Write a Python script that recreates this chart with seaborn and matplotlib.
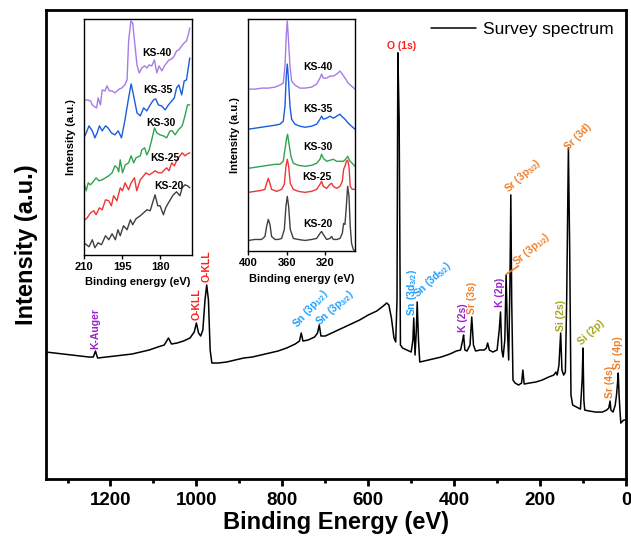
import numpy as np
import pandas as pd
import seaborn as sns
from matplotlib import pyplot as plt

# Survey spectrum (binding energy in eV, intensity in a.u.)
survey_be = [1350, 1330, 1310, 1290, 1270, 1250, 1240, 1235, 1230, 1210, 1190, 1170, 1150, 1130, 1110,
             1090, 1075, 1065, 1058, 1045, 1030, 1015, 1005, 1000, 995, 990, 985, 980, 976, 972, 968,
             964, 950, 930, 910, 890, 870, 850, 830, 810, 790, 770, 760, 756, 752, 740, 725, 718, 714,
             710, 700, 680, 660, 640, 620, 600, 580, 565, 557, 552, 546, 540, 536, 533, 531, 528, 525,
             520, 510, 500, 496, 494, 491, 488, 486, 483, 480, 470, 450, 430, 410, 395, 385, 380, 378,
             375, 370, 363, 359, 355, 350, 340, 330, 325, 322, 318, 310, 300, 295, 292, 289, 286, 282,
             279, 276, 273, 270, 268, 266, 263, 258, 250, 243, 240, 237, 225, 210, 195, 180, 168, 163,
             160, 156, 152, 149, 145, 141, 138, 134, 131, 128, 124, 115, 106, 102, 100, 98, 96, 85, 70,
             55, 45, 40, 37, 35, 30, 25, 22, 20, 18, 16, 14, 12, 8, 5, 2]
survey_int = [127, 126, 125, 124, 123, 122, 122, 128, 121, 122, 123, 124, 125, 127, 129,
              132, 134, 141, 135, 136, 138, 141, 147, 156, 146, 143, 149, 179, 194, 179, 129,
              116, 116, 117, 119, 121, 122, 124, 126, 128, 131, 135, 138, 146, 138, 139, 142, 146, 154,
              143, 143, 147, 151, 155, 159, 164, 168, 173, 176, 174, 161, 141, 137, 179, 426, 359, 134,
              131, 129, 127, 139, 161, 124, 149, 177, 139, 117, 118, 120, 122, 125, 128, 129, 139, 144,
              129, 128, 134, 162, 134, 128, 129, 129, 131, 136, 129, 127, 129, 149, 167, 129, 122, 139,
              204, 149, 119, 199, 284, 179, 99, 96, 94, 96, 109, 95, 96, 97, 99, 102, 104, 107,
              104, 114, 146, 109, 104, 107, 179, 331, 229, 84, 74, 72, 70, 99, 131, 79, 69, 68, 67,
              67, 69, 71, 78, 69, 67, 74, 84, 94, 106, 84, 69, 56, 58, 59, 59]

samples = ["KS-20", "KS-25", "KS-30", "KS-35", "KS-40"]
colors = ["#404040", "#f03535", "#2fa34f", "#1a5ce0", "#a77be6"]

# Inset 1: Si 2p / 2s region (stacked)
si_be = {
    "KS-20": [210, 208.0, 206.7, 205.7, 204.4, 203.1, 201.5, 200.2, 198.9, 197.6, 196.6, 195.7, 194.4,
              193.0, 191.7, 190.8, 189.5, 187.8, 186.5, 185.2, 183.9, 182.0, 180.9, 180.0, 178.7, 177.8,
              176.7, 174.8, 173.5, 172.2, 171.3, 170.2, 169.2, 168.3],
    "KS-25": [210, 208.7, 207.4, 206.1, 205.2, 203.9, 202.8, 201.5, 200.2, 199.2, 198.3, 197.0, 195.7,
              194.8, 193.8, 192.4, 191.4, 190.1, 189.2, 187.8, 186.5, 185.6, 184.3, 183.0, 182.0, 180.7,
              179.4, 178.3, 177.4, 176.5, 175.4, 174.4, 173.5, 172.2, 171.3, 170.2, 169.2, 168.3],
    "KS-30": [210, 209.1, 208.3, 207.4, 206.1, 205.2, 204.1, 202.8, 201.5, 200.2, 198.9, 197.8, 196.9,
              196.3, 195.7, 194.8, 193.7, 192.4, 191.4, 190.4, 189.5, 187.8, 187.2, 186.1, 185.2, 184.3,
              183.3, 182.2, 181.3, 180.0, 178.7, 177.4, 176.1, 175.2, 174.1, 172.8, 171.3, 170.2, 169.2,
              168.3],
    "KS-35": [210, 209.1, 208.0, 206.7, 205.7, 204.8, 203.9, 202.8, 201.5, 200.5, 199.2, 197.8, 196.5,
              195.2, 193.9, 192.4, 191.4, 190.4, 189.1, 187.8, 186.5, 185.2, 183.9, 182.6, 181.7, 180.7,
              179.4, 178.0, 176.7, 175.4, 174.4, 173.5, 172.6, 171.5, 170.5, 169.6, 168.3],
    "KS-40": [210, 208.7, 207.4, 206.7, 205.7, 205.0, 204.4, 203.5, 202.8, 201.7, 200.9, 200.0, 198.9,
              197.8, 196.9, 196.0, 195.0, 193.9, 193.0, 192.4, 191.5, 190.8, 190.0, 189.1, 188.2, 187.2,
              186.1, 185.2, 184.3, 183.3, 182.2, 181.3, 180.4, 179.3, 178.3, 177.4, 176.5, 175.4, 174.4,
              173.5, 172.6, 171.5, 170.5, 169.6, 168.7, 168.3],
}
si_int = {
    "KS-20": [20, 16, 23, 15, 20, 18, 27, 23, 29, 23, 33, 27, 37, 33, 43, 38, 44, 47, 50, 53, 52, 68, 57,
              57, 48, 55, 60, 68, 71, 67, 75, 78, 77, 75],
    "KS-25": [42, 45, 50, 52, 48, 55, 53, 63, 62, 57, 67, 62, 75, 72, 80, 73, 80, 85, 72, 83, 87, 90, 88,
              90, 92, 90, 90, 93, 95, 92, 100, 97, 102, 107, 110, 107, 109, 110],
    "KS-30": [80, 72, 80, 78, 82, 85, 82, 83, 85, 87, 90, 97, 95, 91, 103, 90, 98, 100, 107, 100, 105, 107,
              113, 115, 108, 113, 123, 135, 130, 128, 127, 125, 132, 132, 128, 133, 137, 147, 158, 158],
    "KS-35": [125, 130, 137, 132, 125, 130, 137, 132, 137, 135, 130, 128, 132, 125, 142, 165, 179, 167, 150,
              147, 155, 152, 158, 163, 164, 158, 157, 153, 158, 162, 165, 175, 178, 168, 182, 183, 205],
    "KS-40": [163, 163, 162, 158, 156, 155, 165, 158, 173, 172, 177, 172, 172, 170, 172, 174, 175, 178,
              183, 222, 242, 240, 220, 198, 190, 195, 197, 195, 198, 197, 203, 190, 197, 192, 197, 200,
              203, 204, 207, 212, 213, 217, 220, 222, 230, 235],
}

# Inset 2: Sr 3p / K 2p region (stacked)
be_a = [400, 393.0, 386.1, 382.6, 380.9, 379.1, 377.4, 375.7, 372.2, 368.7, 365.2, 362.4, 360.7, 359.3,
        357.9, 356.2, 353.0, 347.8, 340.9, 333.9, 328.7, 325.2, 323.5, 321.7, 318.3, 314.8, 313.0, 311.3,
        307.8, 304.3, 301.9, 300.5, 299.1, 297.7, 296.3, 294.9, 293.6, 292.2, 290.4, 288.7]
be_b = [400, 393.0, 386.1, 382.6, 380.9, 379.1, 377.4, 375.7, 370.4, 365.2, 362.4, 360.7, 359.3, 357.9,
        356.2, 353.0, 347.8, 340.9, 333.9, 328.7, 325.2, 323.5, 321.7, 318.3, 314.8, 313.0, 311.3, 307.8,
        304.3, 301.9, 300.5, 299.1, 297.7, 296.3, 294.9, 293.6, 291.5, 288.7]
be_c = [400, 393.0, 386.1, 379.1, 372.2, 367.0, 363.5, 361.7, 360.0, 359.0, 357.6, 355.5, 353.0, 347.8,
        340.9, 333.9, 328.7, 325.2, 323.5, 321.7, 318.3, 314.8, 311.3, 307.8, 304.3, 300.8, 298.4, 296.3,
        293.8, 291.5, 288.7]
be_d = [400, 393.0, 386.1, 379.1, 372.2, 367.0, 363.5, 361.7, 360.4, 359.3, 358.3, 356.5, 354.8, 351.3,
        346.1, 340.9, 333.9, 328.7, 325.2, 323.5, 321.7, 318.3, 314.8, 311.3, 307.8, 304.3, 302.6, 299.1,
        295.7, 292.2, 288.7]
sr_be = {"KS-20": be_a, "KS-25": be_b, "KS-30": be_c, "KS-35": be_d, "KS-40": be_d}
sr_int = {
    "KS-20": [16, 17, 17, 20, 30, 37, 32, 20, 17, 17, 18, 27, 50, 60, 50, 27, 18, 17, 16, 17, 18, 23, 25,
              22, 17, 18, 20, 17, 17, 18, 23, 33, 32, 50, 70, 60, 30, 13, 7, 6],
    "KS-25": [64, 65, 66, 67, 73, 78, 73, 67, 65, 67, 72, 90, 97, 90, 73, 67, 65, 64, 65, 67, 72, 75, 70,
              68, 72, 73, 70, 68, 70, 75, 87, 90, 95, 96, 90, 70, 67, 67],
    "KS-30": [88, 89, 90, 91, 92, 92, 95, 107, 118, 122, 113, 100, 93, 91, 90, 91, 93, 97, 102, 98, 95, 96,
              97, 95, 95, 95, 97, 100, 95, 93, 90],
    "KS-35": [127, 128, 129, 130, 131, 132, 135, 150, 180, 192, 180, 150, 137, 132, 130, 129, 130, 132, 137,
              140, 137, 138, 140, 138, 140, 142, 140, 137, 133, 130, 127],
    "KS-40": [167, 167, 168, 168, 169, 171, 173, 190, 220, 235, 220, 190, 175, 171, 168, 168, 169, 172, 178,
              182, 178, 178, 180, 180, 182, 185, 183, 178, 173, 170, 167],
}

# sample label positions inside the insets (KS-20 ... KS-40)
si_label_pos = [(176.7, 77), (178.3, 105), (179.6, 140), (180.7, 173), (181.3, 210)]
sr_label_pos = [(327, 32), (328.7, 79), (327, 109), (327, 147), (327, 189)]

# peak labels: text, energy, height of text start, color, rotation
peak_labels = [
    ("K-Auger", 1235, 130, "#9b22cc", 90),
    ("O-KLL", 1000, 159, "#ff1f1f", 90),
    ("O-KLL", 976, 197, "#ff1f1f", 90),
    ("Sn (3p$_{1/2}$)", 758, 148, "#1ea0ff", 48),
    ("Sn (3p$_{3/2}$)", 707, 150, "#1ea0ff", 42),
    ("Sn (3d$_{3/2}$)", 499, 163, "#1ea0ff", 90),
    ("Sn (3d$_{5/2}$)", 480, 178, "#1ea0ff", 43),
    ("K (2s)", 379, 147, "#9b22cc", 90),
    ("Sr (3s)", 358, 165, "#f07f2a", 90),
    ("K (2p)", 294, 172, "#9b22cc", 90),
    ("Sr (3p$_{3/2}$)", 268, 283, "#f07f2a", 42),
    ("Sr (3d)", 131, 327, "#f07f2a", 45),
    ("Si (2s)", 152, 148, "#a6a61e", 90),
    ("Si (2p)", 100, 132, "#a6a61e", 43),
    ("Sr (4s)", 38, 81, "#f07f2a", 90),
    ("Sr (4p)", 18, 110, "#f07f2a", 90),
]

sns.set_theme(style="ticks")
plt.rcParams['font.family'] = ['Liberation Sans', 'DejaVu Sans']
plt.rcParams['mathtext.default'] = 'regular'
plt.rcParams['text.color'] = 'black'
plt.rcParams['axes.labelcolor'] = 'black'
plt.rcParams['axes.edgecolor'] = 'black'
plt.rcParams['xtick.color'] = 'black'
plt.rcParams['ytick.color'] = 'black'

fig = plt.figure(figsize=(6.31, 5.42), dpi=100)
ax = fig.add_axes([0.073, 0.116, 0.919, 0.866])

df = pd.DataFrame({"be": survey_be, "intensity": survey_int})
sns.lineplot(data=df, x="be", y="intensity", ax=ax, color="black", lw=1.1,
             estimator=None, label="Survey spectrum")
ax.set_xlim(1350, 0)
ax.set_ylim(0, 469)
ax.set_xticks([1200, 1000, 800, 600, 400, 200, 0])
ax.set_xticks([1300, 1100, 900, 700, 500, 300, 100], minor=True)
ax.set_yticks([])
ax.tick_params(axis="x", which="major", direction="out", length=5, width=2, pad=4)
ax.tick_params(axis="x", which="minor", direction="out", length=3, width=2)
for lab in ax.get_xticklabels():
    lab.set_fontsize(13.5)
    lab.set_fontweight("bold")
for s in ax.spines.values():
    s.set_linewidth(2)
ax.set_xlabel("Binding Energy (eV)", fontsize=17, fontweight="bold", labelpad=2)
ax.set_ylabel("Intensity (a.u.)", fontsize=17, fontweight="bold", labelpad=6)
ax.legend(loc="upper right", frameon=False, fontsize=12.5, handlelength=2.6,
          handletextpad=0.4, borderaxespad=0.3)

for text, be, y, c, rot in peak_labels:
    ha = "center" if rot == 90 else "left"
    ax.text(be, y, text, color=c, rotation=rot, fontsize=7.5, fontweight="bold",
            ha=ha, va="bottom", rotation_mode="anchor" if rot != 90 else "default")
ax.text(523, 428, "O (1s)", color="#ff1f1f", fontsize=7.5, fontweight="bold",
        ha="center", va="bottom")

# Sr 3p1/2 label with a short leader line
ax.plot([278, 250], [205, 213], color="#f07f2a", lw=1.2, zorder=5)
ax.text(248, 210, "Sr (3p$_{1/2}$)", color="#f07f2a", fontsize=7.5, fontweight="bold",
        rotation=40, rotation_mode="anchor", ha="left", va="bottom")


def draw_inset(rect, be_dict, int_dict, xlim, ylim, xticks, label_pos):
    axi = fig.add_axes(rect)
    for name, c in zip(samples, colors):
        d = pd.DataFrame({"be": be_dict[name], "intensity": int_dict[name]})
        sns.lineplot(data=d, x="be", y="intensity", ax=axi, color=c, lw=1,
                     estimator=None)
    for name, (x, y) in zip(samples, label_pos):
        axi.text(x, y, name, fontsize=7.5, fontweight="bold", ha="center", va="center")
    axi.set_xlim(*xlim)
    axi.set_ylim(*ylim)
    axi.set_xticks(xticks)
    axi.set_yticks([])
    axi.tick_params(axis="x", direction="out", length=3, width=1, pad=2)
    for lab in axi.get_xticklabels():
        lab.set_fontsize(8)
        lab.set_fontweight("bold")
    for s in axi.spines.values():
        s.set_linewidth(1)
    axi.set_xlabel("Binding energy (eV)", fontsize=8, fontweight="bold", labelpad=4)
    axi.set_ylabel("Intensity (a.u.)", fontsize=8, fontweight="bold", labelpad=6)
    return axi


draw_inset([0.133, 0.530, 0.171, 0.435], si_be, si_int, (210, 167.5), (8, 244),
           [210, 195, 180], si_label_pos)
draw_inset([0.3935, 0.536, 0.169, 0.429], sr_be, sr_int, (400, 288.7), (5, 237),
           [400, 360, 320], sr_label_pos)

plt.savefig("out.png", dpi=100)
